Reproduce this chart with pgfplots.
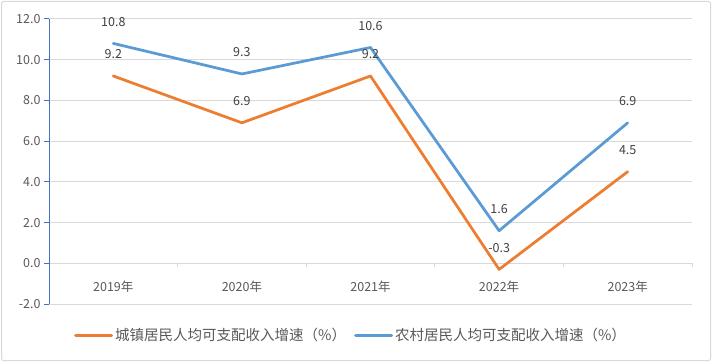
\documentclass[border=0pt]{standalone}
\usepackage{fontspec}
\setmainfont{Noto Sans CJK SC}
\usepackage{pgfplots}
\pgfplotsset{compat=1.18}
\definecolor{cOrange}{HTML}{ED7D31}
\definecolor{cBlue}{HTML}{5B9BD5}
\definecolor{cAxis}{HTML}{4472C4}
\definecolor{cGrid}{HTML}{D9D9D9}
\definecolor{cText}{HTML}{595959}
\definecolor{cLabel}{HTML}{404040}
\begin{document}
\begin{tikzpicture}
\useasboundingbox (0,0) rectangle (712bp,362bp);
\draw[cGrid, line width=1bp, rounded corners=2bp] (1.5bp,1.5bp) rectangle (710.5bp,360.5bp);
\begin{axis}[
  at={(49bp,58bp)}, anchor=south west,
  scale only axis, width=643bp, height=285bp,
  xmin=-0.5, xmax=4.5, ymin=-2, ymax=12,
  clip=false,
  axis y line=left, axis x line=middle,
  axis line style={-},
  y axis line style={cAxis, line width=1bp},
  x axis line style={cGrid, line width=1bp},
  ytick={-2,0,...,12},
  ymajorgrids, grid style={cGrid, line width=1bp},
  ytick style={cAxis, line width=1bp},
  ytick align=outside, major tick length=5bp,
  xtick={0,1,2,3,4},
  xticklabels={2019年,2020年,2021年,2022年,2023年},
  major x tick style={draw=none},
  minor xtick={-0.5,0.5,1.5,2.5,3.5,4.5},
  minor x tick style={cGrid, line width=1bp},
  minor tick length=4bp,
  xtick align=outside,
  tick label style={font=\fontsize{12.5bp}{14bp}\selectfont, text=cText},
  x tick label style={anchor=center, yshift=-18bp},
  /pgf/number format/assume math mode=true,
  yticklabel style={/pgf/number format/.cd, fixed, fixed zerofill, precision=1},
  nodes near coords,
  nodes near coords style={font=\fontsize{12.5bp}{14bp}\selectfont, text=cLabel, anchor=center, yshift=21.5bp,
    /pgf/number format/.cd, fixed, fixed zerofill, precision=1, assume math mode=true},
  legend style={at={(0.4697,-0.109)}, anchor=center, draw=none, fill=none,
    font=\fontsize{14.5bp}{16bp}\selectfont, text=cText,
    /tikz/every even column/.append style={column sep=6bp}},
  legend columns=2,
  legend image code/.code={\draw[line width=3bp] (0bp,0bp) -- (36bp,0bp);},
]
\addplot[cOrange, line width=2.75bp, line join=round, line cap=round] coordinates {(0,9.2) (1,6.9) (2,9.2) (3,-0.3) (4,4.5)};
\addlegendentry{城镇居民人均可支配收入增速（\%）}
\addplot[cBlue, line width=2.75bp, line join=round, line cap=round] coordinates {(0,10.8) (1,9.3) (2,10.6) (3,1.6) (4,6.9)};
\addlegendentry{农村居民人均可支配收入增速（\%）}
\end{axis}
\end{tikzpicture}
\end{document}
